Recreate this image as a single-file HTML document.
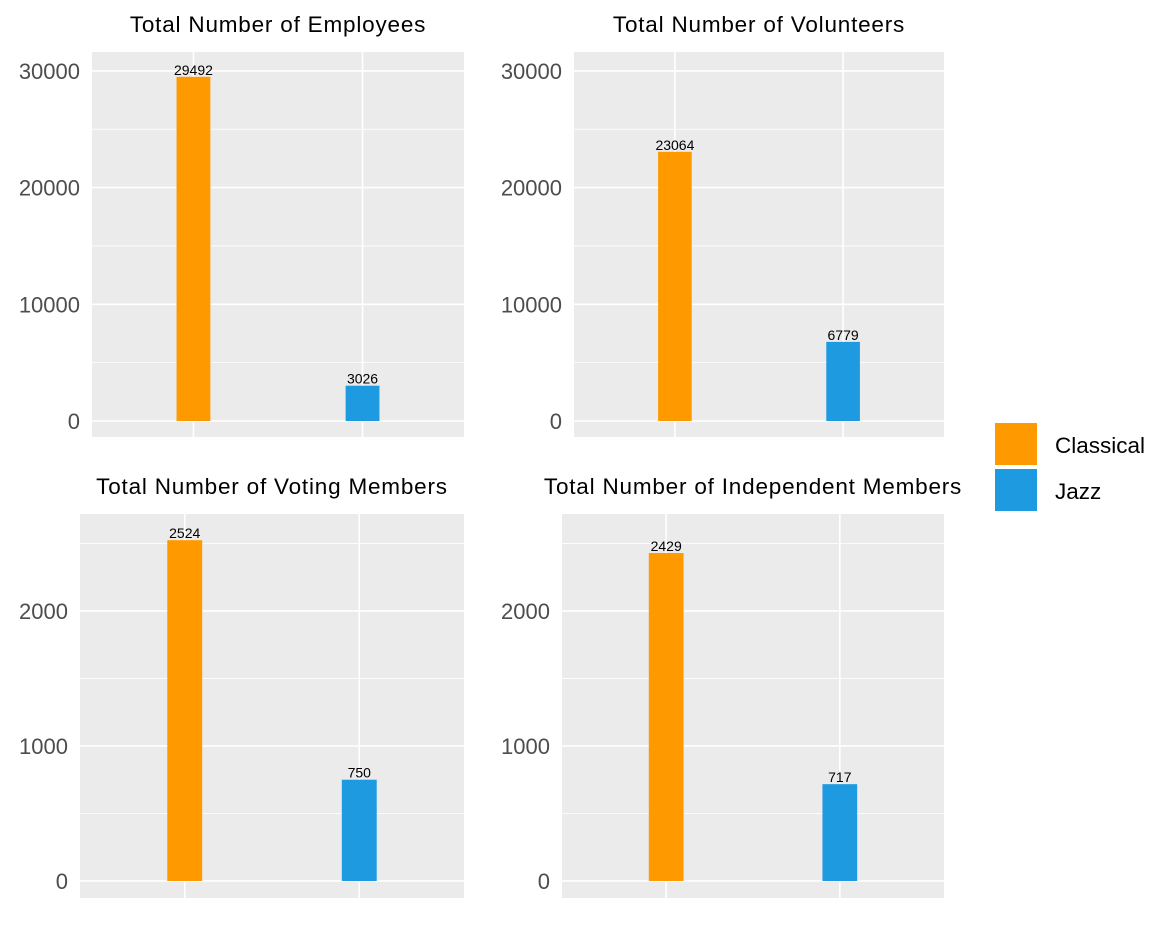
<!DOCTYPE html>
<html><head><meta charset="utf-8"><style>
body{margin:0;background:#fff;}
svg text{font-family:"Liberation Sans",Arial,sans-serif;}
</style></head><body>
<svg id="chart" width="1152" height="921" xmlns="http://www.w3.org/2000/svg"></svg>
<script>
const categories = ["Classical", "Jazz"];
const colors = ["#FF9900", "#1E9AE0"];
const titles = ["Total Number of Employees", "Total Number of Volunteers", "Total Number of Voting Members", "Total Number of Independent Members"];
const employees = [29492, 3026];
const volunteers = [23064, 6779];
const votingMembers = [2524, 750];
const independentMembers = [2429, 717];
const ticksTop = [0, 10000, 20000, 30000];
const ticksBottom = [0, 1000, 2000];

const svg = document.getElementById('chart');
const NS = 'http://www.w3.org/2000/svg';
function el(tag, attrs, parent) {
  const e = document.createElementNS(NS, tag);
  for (const k in attrs) e.setAttribute(k, attrs[k]);
  (parent || svg).appendChild(e);
  return e;
}
const panels = [
  {data: employees, ticks: ticksTop, x0: 92, x1: 464, y0: 52, y1: 437, vmin: -1371, vmax: 31620, name: 'employees'},
  {data: volunteers, ticks: ticksTop, x0: 574, x1: 944, y0: 52, y1: 437, vmin: -1371, vmax: 31620, name: 'volunteers'},
  {data: votingMembers, ticks: ticksBottom, x0: 80, x1: 464, y0: 514, y1: 898, vmin: -126, vmax: 2718, name: 'voting-members'},
  {data: independentMembers, ticks: ticksBottom, x0: 562, x1: 944, y0: 514, y1: 898, vmin: -126, vmax: 2718, name: 'independent-members'}
];
panels.forEach((p, i) => {
  const g = el('g', {});
  
  
  const ys = v => p.y1 - (v - p.vmin) / (p.vmax - p.vmin) * (p.y1 - p.y0);
  const xc = k => p.x0 + ((k + 1) - 0.4) / 2.2 * (p.x1 - p.x0);
  const bg = el('rect', {x: p.x0, y: p.y0, width: p.x1 - p.x0, height: p.y1 - p.y0, fill: '#EBEBEB'}, g);
  
  
  const step = p.ticks[1] - p.ticks[0];
  for (let t = p.ticks[0] - step / 2; t <= p.vmax; t += step) {
    if (t < p.vmin) continue;
    el('line', {x1: p.x0, x2: p.x1, y1: ys(t), y2: ys(t), stroke: '#fff', 'stroke-width': 0.8}, g);
  }
  p.ticks.forEach(t => {
    el('line', {x1: p.x0, x2: p.x1, y1: ys(t), y2: ys(t), stroke: '#fff', 'stroke-width': 1.6}, g);
    const tl = el('text', {x: p.x0 - 12, y: ys(t) + 8, 'text-anchor': 'end', 'font-size': 22, fill: '#4D4D4D'}, g);
    tl.textContent = t;
    
    
  });
  categories.forEach((c, k) => {
    el('line', {x1: xc(k), x2: xc(k), y1: p.y0, y2: p.y1, stroke: '#fff', 'stroke-width': 1.6}, g);
  });
  categories.forEach((c, k) => {
    const w = 0.2 / 2.2 * (p.x1 - p.x0);
    const b = el('rect', {x: xc(k) - w / 2, y: ys(p.data[k]), width: w, height: ys(0) - ys(p.data[k]), fill: colors[k]}, g);
    
    
    const lb = el('text', {x: xc(k), y: ys(p.data[k]) - 2, 'text-anchor': 'middle', 'font-size': 14, fill: '#000'}, g);
    lb.textContent = p.data[k];
    
    
  });
  const tt = el('text', {x: (p.x0 + p.x1) / 2, y: p.y0 - 20, 'text-anchor': 'middle', 'font-size': 22.5, 'letter-spacing': 0.8, fill: '#000'}, g);
  tt.textContent = titles[i];
  
  
});
categories.forEach((c, k) => {
  const lg = el('g', {});
  
  
  el('rect', {x: 995, y: 423 + k * 46, width: 42, height: 42, fill: colors[k]}, lg);
  const t = el('text', {x: 1055, y: 453 + k * 46, 'font-size': 22.5, fill: '#000'}, lg);
  t.textContent = c;
});
</script>
</body></html>
